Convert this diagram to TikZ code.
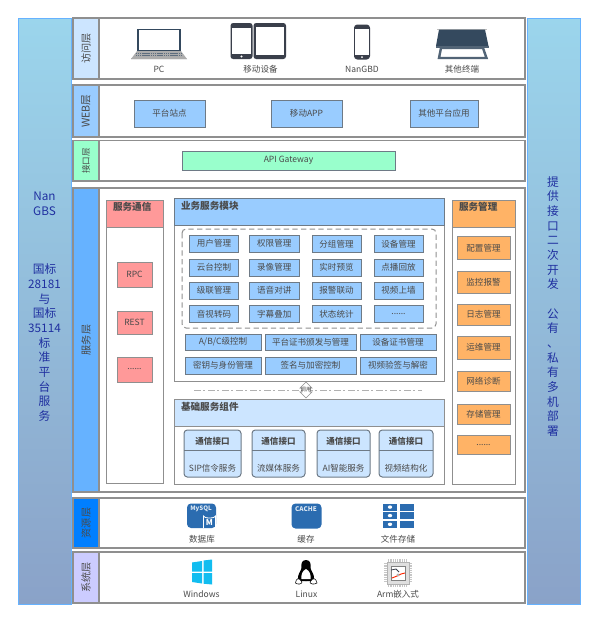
\documentclass[tikz,border=0pt]{standalone}
\usepackage{fontspec}
\setmainfont{Noto Sans CJK SC}
\usetikzlibrary{shapes.geometric,calc}
\definecolor{txt}{HTML}{4A4A4A}
\definecolor{bord}{HTML}{8F8F8F}
\definecolor{edge}{HTML}{6E7A86}
\definecolor{bl}{HTML}{99CCFF}
\definecolor{lbl}{HTML}{CCE5FF}
\definecolor{mint}{HTML}{99FFCC}
\definecolor{pk}{HTML}{FF9999}
\definecolor{org}{HTML}{FFB366}
\definecolor{sky}{HTML}{66B2FF}
\definecolor{deep}{HTML}{007FFF}
\definecolor{lav}{HTML}{CCCCFF}
\definecolor{ico}{HTML}{2B6CB0}
\definecolor{slate}{HTML}{34495E}
\definecolor{dark}{HTML}{3A3F4B}
\definecolor{sidet}{HTML}{9BD5EC}
\definecolor{sideb}{HTML}{8AA2C8}
\definecolor{sidef}{HTML}{2030A0}
\definecolor{winc}{HTML}{12BDF0}
\newcommand{\ddd}{......}
\newcommand{\abc}{A/B/C级控制}
\newcommand{\blk}{\mbox{}}
\tikzset{
 x=0.75pt,y=-0.75pt,
 every node/.style={inner sep=0,outer sep=0,font=\fontsize{6.4pt}{7pt}\selectfont,text=txt},
 rowbox/.style={draw=bord,line width=0.85pt,fill=white},
 side/.style={draw=sky,line width=0.6pt,top color=sidet,bottom color=sideb},
 sidetxt/.style={align=center,text=sidef,font=\fontsize{8.8pt}{11pt}\selectfont,text width=36pt},
 bx/.style={draw=edge,line width=0.75pt,fill=bl},
 pkb/.style={draw=bord,line width=0.75pt,fill=pk},
 head/.style={font=\bfseries\fontsize{7.2pt}{8pt}\selectfont}
}
\newcommand{\tbx}[7]{\draw[#6] (#2,#3) rectangle (#4,#5);\node (#1) at ({(#2+#4)/2},{(#3+#5)/2}) {#7};}
\begin{document}
\begin{tikzpicture}
\useasboundingbox (0,0) rectangle (598,622);
\fill[white] (0,0) rectangle (598,622);
% side bars
\draw[side] (18,18) rectangle (71,604);
\draw[side] (527,18) rectangle (580,604);
\node[sidetxt] (lt) at (44.5,306.5) {Nan\\GBS\\\blk\\\blk\\\blk\\国标\\28181\\与\\国标\\35114\\标\\准\\平\\台\\服\\务};
\node[sidetxt] (rt) at (553,306.5) {提\\供\\接\\口\\二\\次\\开\\发\\\blk\\公\\有\\、\\私\\有\\多\\机\\部\\署};
% rows
\foreach \n/\a/\b/\c/\t/\sz in {r1/18/79/lbl/访问层/7.6,r2/85/137/bl/WEB层/8,r3/140.5/181/mint/接口层/6.4,r4/188/492/sky/服务层/7.6,r5/498/548/deep/资源层/7.6,r6/552/603/lav/系统层/7.6}{
 \draw[rowbox] (73,\a) rectangle (525,\b);
 \fill[\c] (73,\a) rectangle (99,\b);
 \draw[bord,line width=0.85pt] (73,\a) rectangle (99,\b);
 \node[rotate=90,font=\fontsize{\sz pt}{8pt}\selectfont] (\n) at (86,{(\a+\b)/2}) {\t};
}
% laptop
\fill[gray!60] (131,58) -- (186,58) -- (187,59) -- (131,59) -- cycle;
\fill[white,draw=slate,line width=1pt] (138,29.5) rectangle (180,51);
\fill[gray!65] (137,51) -- (181,51) -- (187,59) -- (131,59) -- cycle;
\foreach \yy in {53,55}{\draw[slate!80,line width=0.7pt,dash pattern=on 1pt off 0.4pt] (136,\yy) -- (182,\yy);}
% tablets
\fill[dark,rounded corners=2pt] (230.5,23) rectangle (252.5,59);
\fill[white] (232,28) rectangle (251,54);
\fill[white] (241.5,56.5) circle (1.2);
\fill[dark,rounded corners=2pt] (253.5,23) rectangle (286,59);
\fill[white] (256,27) rectangle (283.5,54.5);
% phone
\fill[dark,rounded corners=2.5pt] (354,24.5) rectangle (370,59.5);
\fill[white] (355,29) rectangle (369,54.5);
\fill[white] (362,57) circle (1);
% other terminal
\fill[gray!50] (437,28.5) rectangle (487,29.5);
\fill[slate] (439,29.5) -- (485,29.5) -- (488.5,46) -- (436,46) -- cycle;
\fill[slate!85] (436,46) rectangle (488.5,47.5);
\fill[white,draw=slate!85,line width=1.8pt] (441,48) -- (483,48) -- (486.5,58) -- (439,58) -- cycle;
\node (pc) at (159,69.5) {PC};
\node (mob) at (260.5,69.5) {移动设备};
\node (ngb) at (362,69.5) {NanGBD};
\node (oth) at (462,69.5) {其他终端};
% web
\tbx{w1}{134}{100}{205}{127}{bx}{平台站点}
\tbx{w2}{271}{100}{342}{127}{bx}{移动APP}
\tbx{w3}{410}{100}{478}{127}{bx}{其他平台应用}
\tbx{api}{182}{151}{395}{170}{draw=edge,line width=0.75pt,fill=mint}{API Gateway}
% service comm
\draw[bord,fill=white,line width=0.75pt] (106,200) rectangle (163,483);
\draw[bord,fill=pk,line width=0.75pt] (106,200) rectangle (163,227);
\node[head,anchor=west] (sc) at (113,207) {服务通信};
\tbx{c1}{117}{262}{152}{287}{pkb}{RPC}
\tbx{c2}{117}{311}{152}{334}{pkb}{REST}
\tbx{c3}{117}{357}{152}{382}{pkb}{\ddd}
% business
\draw[bord,fill=white,line width=0.75pt] (174,198) rectangle (444,381);
\draw[edge,fill=bl,line width=0.75pt] (174,198) rectangle (444,225);
\node[head,anchor=west] (bs) at (181,205.5) {业务服务模块};
\draw[bord,line width=0.75pt,rounded corners=3pt,dash pattern=on 4pt off 2.5pt] (182,229) rectangle (436,328);
\foreach \nm/\xa/\xb/\ya/\yb/\t in {
 a/189.5/238.5/235.5/252/用户管理,b/249.5/299/235.5/252/权限管理,c/312/361/235.5/252/分组管理,d/374/423/235.5/252/设备管理,
 e/189.5/238.5/259/276/云台控制,f/249.5/299/259/276/录像管理,g/312/361/259/276/实时预览,h/374/423/259/276/点播回放,
 i/189.5/238.5/282/299/级联管理,j/249.5/299/282/299/语音对讲,k/312/361/282/299/报警联动,l/374/423/282/299/视频上墙,
 m/189.5/238.5/305.5/322/音视转码,n/249.5/299/305.5/322/字幕叠加,o/312/361/305.5/322/状态统计,p/374/423/305.5/322/\ddd,
 q/185/261/334/350/\abc,r/265/356/334/350/平台证书颁发与管理,s/360/436/334/350/设备证书管理,
 t/185/261/357/374/密钥与身份管理,u/265/356/357/374/签名与加密控制,v/360/436/357/374/视频验签与解密}{
 \draw[bx] (\xa,\ya) rectangle (\xb,\yb);
 \node (\nm) at ({(\xa+\xb)/2},{(\ya+\yb)/2}) {\t};
}
% separator
\coordinate (sl) at (194,390); \coordinate (sr) at (422,390);
\draw[bord!70,line width=0.75pt,dash pattern=on 5pt off 2pt on 1.5pt off 2pt] (sl) -- (sr);
\fill[white,draw=bord,line width=0.5pt] (306,382) -- (312,388) -- (310,388) -- (310,392) -- (312,392) -- (306,398) -- (300,392) -- (302,392) -- (302,388) -- (300,388) -- cycle;
\node[font=\fontsize{4pt}{4pt}\selectfont] (call) at (306,390) {调用};
% base
\draw[bord,fill=white,line width=0.75pt] (174,399) rectangle (444,484);
\draw[bord,fill=lbl,line width=0.75pt] (174,399) rectangle (444,426);
\node[head,anchor=west] (bc) at (181,406.5) {基础服务组件};
\foreach \nm/\xa/\xb/\t in {b1/184/241/SIP信令服务,b2/252/305/流媒体服务,b3/317/370/AI智能服务,b4/379/433/视频结构化}{
 \draw[edge,line width=0.75pt,fill=lbl,rounded corners=2.5pt] (\xa,430) rectangle (\xb,477);
 \draw[edge,line width=0.75pt] (\xa,450.5) -- (\xb,450.5);
 \node[font=\bfseries\fontsize{6.4pt}{7pt}\selectfont] (\nm h) at ({(\xa+\xb)/2},441) {通信接口};
 \node (\nm) at ({(\xa+\xb)/2},468) {\t};
}
% management
\draw[bord,fill=white,line width=0.75pt] (452.5,200) rectangle (515,484);
\draw[bord,fill=org,line width=0.75pt] (452.5,200) rectangle (515,227);
\node[head,anchor=west] (sm) at (459,207) {服务管理};
\foreach \nm/\ya/\yb/\t in {g1/236/259.5/配置管理,g2/271.5/293/监控报警,g3/304/325/日志管理,g4/336/359.5/运维管理,g5/371/391/网络诊断,g6/404/424/存储管理,g7/435/454.5/\ddd}{
 \draw[bord,line width=0.75pt,fill=org] (457,\ya) rectangle (510,\yb);
 \node (\nm) at (483.5,{(\ya+\yb)/2}) {\t};
}
% resources
\fill[ico,rounded corners=3pt] (187,503.5) rectangle (216,528);
\node[font=\bfseries\fontsize{4.6pt}{5pt}\selectfont,text=white!85!ico] (my) at (201,508.5) {MySQL};
\draw[white,line width=0.6pt] (203.5,528) -- (203.5,516) arc[start angle=180,end angle=0,x radius=6,y radius=2] -- (215.5,528);
\node[font=\bfseries\fontsize{6pt}{5pt}\selectfont,text=white] (mm) at (209.5,523) {M};
\node (db) at (202,539.5) {数据库};
\fill[ico,rounded corners=3pt] (291.5,503.5) rectangle (321.5,528.5);
\node[font=\bfseries\fontsize{4.8pt}{5pt}\selectfont,text=white!85!ico] (ca) at (306,509) {CACHE};
\node (cc) at (306,539.5) {缓存};
\foreach \yy in {503.5,512,520.7}{
 \fill[ico] (383,\yy) rectangle (397,{\yy+7.3});
 \fill[white] (390,{\yy+3.6}) ellipse (2.2 and 1.7);
 \fill[ico] (400,\yy) rectangle (413.5,{\yy+7.3});
}
\node (fs) at (398,539.5) {文件存储};
% windows
\fill[winc] (192,562.5) -- (202,561) -- (202,571.5) -- (192,571.5) -- cycle;
\fill[winc] (203.5,560.5) -- (212,559.5) -- (212,571.5) -- (203.5,571.5) -- cycle;
\fill[winc] (192,573) -- (202,573) -- (202,583.5) -- (192,582) -- cycle;
\fill[winc] (203.5,573) -- (212,573) -- (212,584.5) -- (203.5,583.7) -- cycle;
\node (win) at (201.5,594) {Windows};
% linux
\fill[black] (306,560) .. controls (301.5,560) and (301,564) .. (301.5,568) .. controls (301,571) and (297.5,574) .. (298,579) .. controls (298,582) and (314,582) .. (314,579) .. controls (314.5,574) and (311,571) .. (310.5,568) .. controls (311,564) and (310.5,560) .. (306,560) -- cycle;
\fill[white] (306,569) .. controls (302,571) and (301,575) .. (301.5,579) -- (310.5,579) .. controls (311,575) and (310,571) .. (306,569) -- cycle;
\fill[white,draw=black,line width=0.4pt] (295.5,583) .. controls (296,578) and (299,577) .. (302,582) .. controls (302,584) and (298,585) .. (295.5,583) -- cycle;
\fill[white,draw=black,line width=0.4pt] (317,583) .. controls (316,578) and (313,577) .. (310,582) .. controls (310,584) and (314,585) .. (317,583) -- cycle;
\node (lin) at (306.5,594) {Linux};
% chip
\draw[gray!45,line width=3pt,dash pattern=on 1pt off 0.7pt] (388,561) -- (408,561) (388,585) -- (408,585) (386,563) -- (386,583) (410,563) -- (410,583);
\fill[gray!25,draw=gray!60,line width=0.6pt] (387,562) rectangle (409,584);
\fill[white,draw=gray,line width=0.5pt] (391,566) rectangle (405,580);
\draw[dark,line width=0.6pt] (391,570) -- (396,569) -- (399,572);
\draw[red!70!orange,line width=0.7pt] (392,578) -- (397,576) -- (401,574) -- (405,573);
\fill[gray!60] (398,575) circle (1.6);
\node (arm) at (398,594) {Arm嵌入式};
\end{tikzpicture}
\end{document}
